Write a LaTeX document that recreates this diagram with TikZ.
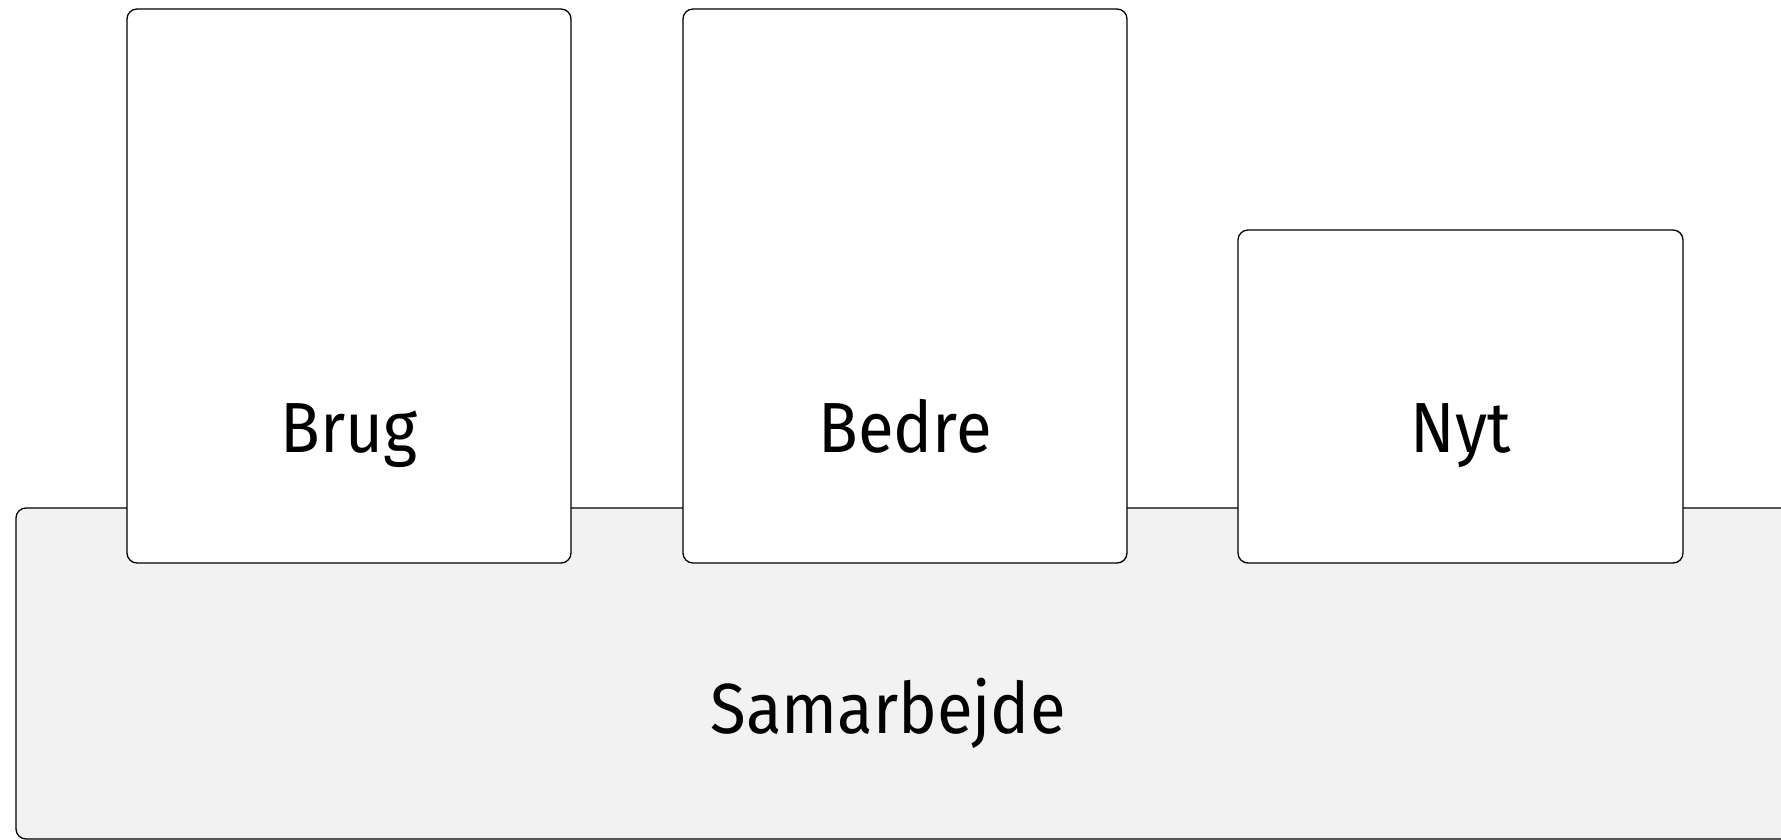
\documentclass[tikz,border=0pt]{standalone}
\usepackage{fontspec}
\setmainfont{Fira Sans}[FakeStretch=0.92]
\begin{document}
\begin{tikzpicture}[x=1pt,y=-1pt,
  box/.style={draw=black,line width=1.3pt,rounded corners=10pt},
  lbl/.style={font=\fontsize{71}{80}\selectfont,anchor=base,inner sep=0pt}]
\useasboundingbox (0,0) rectangle (1781,840);
\draw[box,fill={rgb,255:red,242;green,242;blue,242}] (16,508) rectangle (1800,839);
\node[lbl] (sam) at (888,733) {Samarbejde};
\draw[box,fill=white] (127,9) rectangle (571,563);
\node[lbl] (brug) at (349,452) {Brug};
\draw[box,fill=white] (683,9) rectangle (1127,563);
\node[lbl] (bedre) at (905,452) {Bedre};
\draw[box,fill=white] (1238,230) rectangle (1683,563);
\node[lbl] (nyt) at (1461,452) {Nyt};
\end{tikzpicture}
\end{document}
